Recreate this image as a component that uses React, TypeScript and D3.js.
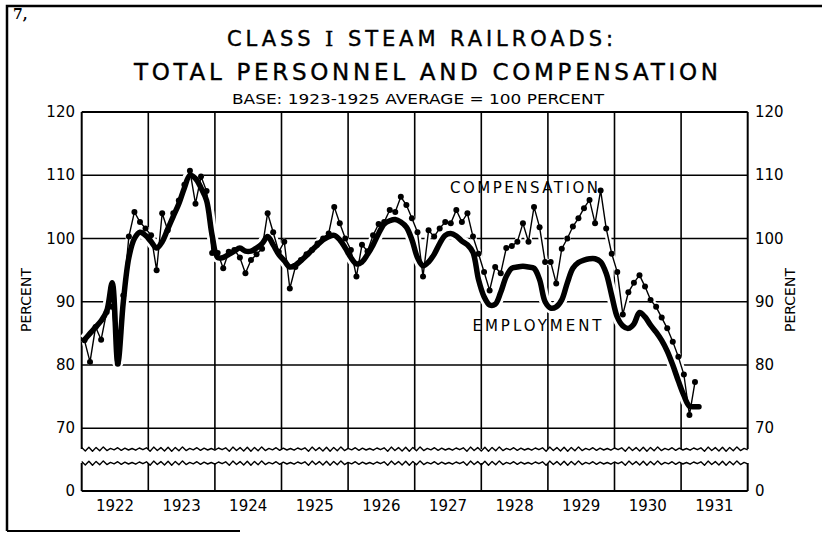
import { useEffect, useRef } from "react";
import * as d3 from "d3";

// monthly index numbers, Jan 1922 onward (1923-1925 average = 100)
const years = [1922, 1923, 1924, 1925, 1926, 1927, 1928, 1929, 1930, 1931];

const employment = [
  84, 85, 86, 87, 88.5, 93, 80.3, 90, 97, 100, 101, 100.5, // 1922
  99.5, 98.5, 99.5, 101.5, 103.5, 105.5, 108, 110, 109.5, 108, 106, 100.5, // 1923
  97, 97, 97.5, 98, 98.5, 98, 98, 98.5, 99.2, 100.3, 99, 97.5, // 1924
  96.5, 95.5, 95.8, 96.5, 97.3, 98.2, 99, 99.8, 100.3, 100.5, 99.8, 98.5, // 1925
  97, 96, 96.3, 97.5, 99, 100.8, 102.3, 102.8, 103, 102.6, 101.8, 99.8, // 1926
  97, 95.7, 96.3, 97.5, 99.2, 100.5, 100.8, 100.4, 99.6, 99, 97.8, 93.5, // 1927
  90.8, 89.5, 89.6, 91.5, 94, 95.3, 95.5, 95.6, 95.5, 95.3, 93.5, 90, // 1928
  89, 89.2, 90.3, 93, 95.3, 96.2, 96.6, 96.8, 96.8, 96.3, 94.5, 91, // 1929
  87.6, 86.2, 85.8, 86.5, 88.3, 87.6, 86.3, 85.2, 83.9, 82.2, 80, 77.5, // 1930
  75.2, 73.5, 73.4, // 1931
];

const compensation = [
  83.9, 80.5, 86, 84, 88.4, 89.2, 80.2, 91, 100.3, 104.2, 102.6, 101.6, // 1922
  100.5, 95, 104, 101.3, 104, 106, 108.5, 110.7, 105.5, 109.8, 107.5, 97.7, // 1923
  97.7, 95.3, 97.9, 98.2, 97, 94.5, 96.6, 97.5, 98.4, 104, 101, 97.9, // 1924
  99.5, 92.1, 95.5, 96.6, 97.5, 98.2, 99.2, 100, 100.8, 105, 102.4, 100, // 1925
  98.2, 94, 99, 98, 100.5, 102.3, 102.6, 104.5, 104.2, 106.6, 105.3, 103.2, // 1926
  101, 94, 101.3, 100.3, 101.6, 102.6, 102.4, 104.5, 102.6, 104, 100.3, 97.6, // 1927
  94.7, 91.8, 95.5, 94.5, 98.5, 98.8, 99.5, 102.4, 99.5, 105, 101.8, 96.3, // 1928
  96.3, 92.9, 98.4, 100, 101.9, 103.2, 104.8, 106.1, 102.4, 107.6, 101.6, 97.6, // 1929
  94.7, 88, 91.5, 93, 94.2, 92.4, 90.3, 89.2, 87.5, 85.8, 83.7, 81.3, // 1930
  78.5, 72.1, 77.3, // 1931
];

const yTicks = [70, 80, 90, 100, 110, 120];

const font = "'DejaVu Sans', sans-serif";

const Chart = () => {
  const svgRef = useRef(null);

  useEffect(() => {
    const svg = d3.select(svgRef.current);
    svg.selectAll("*").remove();

    const left = 81.7;
    const right = 747.7;
    const top = 112;
    const y70 = 428.3;
    const yZero = 491;
    const breakTop = 449;
    const breakBottom = 463;

    const x = d3
      .scaleLinear()
      .domain([0, years.length * 12])
      .range([left, right]);

    const y = d3.scaleLinear().domain([70, 120]).range([y70, top]);

    // outer frame (left, top, part of bottom)
    svg.append("path")
      .attr("d", "M7,531 L7,6 L822,6")
      .attr("fill", "none")
      .attr("stroke", "#000")
      .attr("stroke-width", 2.5);
    svg.append("line")
      .attr("x1", 7).attr("x2", 240)
      .attr("y1", 531).attr("y2", 531)
      .attr("stroke", "#000").attr("stroke-width", 2);

    // titles
    svg.append("text")
      .attr("x", 13).attr("y", 19)
      .attr("font-family", "'DejaVu Serif', serif")
      .attr("font-weight", "bold")
      .attr("font-size", 14)
      .text("7,");

    const t1 = svg.append("text")
      .attr("x", 420).attr("y", 46)
      .attr("text-anchor", "middle")
      .attr("font-family", font)
      .attr("font-size", 21)
      .attr("stroke", "#000").attr("stroke-width", 0.4)
      .attr("textLength", 386)
      .attr("lengthAdjust", "spacing");
    t1.append("tspan").text("CLASS ");
    t1.append("tspan").attr("font-family", "'DejaVu Serif', serif").text("I");
    t1.append("tspan").text("  STEAM  RAILROADS:");

    svg.append("text")
      .attr("x", 426).attr("y", 80)
      .attr("text-anchor", "middle")
      .attr("font-family", font)
      .attr("font-size", 23)
      .attr("stroke", "#000").attr("stroke-width", 0.4)
      .attr("textLength", 584)
      .attr("lengthAdjust", "spacing")
      .text("TOTAL  PERSONNEL  AND  COMPENSATION");

    svg.append("text")
      .attr("x", 418).attr("y", 104)
      .attr("text-anchor", "middle")
      .attr("font-family", font)
      .attr("font-size", 14)
      .attr("textLength", 372)
      .attr("lengthAdjust", "spacingAndGlyphs")
      .text("BASE: 1923-1925 AVERAGE = 100 PERCENT");

    const g = svg.append("g");

    // horizontal grid lines
    yTicks.forEach((v) => {
      g.append("line")
        .attr("x1", left).attr("x2", right)
        .attr("y1", y(v)).attr("y2", y(v))
        .attr("stroke", "#000")
        .attr("stroke-width", v === 120 ? 2 : 1.6);
    });
    g.append("line")
      .attr("x1", left).attr("x2", right)
      .attr("y1", yZero).attr("y2", yZero)
      .attr("stroke", "#000").attr("stroke-width", 2.2);

    // vertical year lines, broken between the wavy lines
    d3.range(years.length + 1).forEach((i) => {
      const xv = x(i * 12);
      const sw = i === 0 || i === years.length ? 2 : 1.6;
      g.append("line")
        .attr("x1", xv).attr("x2", xv)
        .attr("y1", top).attr("y2", breakTop)
        .attr("stroke", "#000").attr("stroke-width", sw);
      g.append("line")
        .attr("x1", xv).attr("x2", xv)
        .attr("y1", breakBottom).attr("y2", yZero)
        .attr("stroke", "#000").attr("stroke-width", sw);
    });

    // wavy scale-break lines (decoration only)
    const jitter = [0, 0.6, -0.4, 0.9, -0.2, 0.4, -0.7, 0.2, 0.8, -0.5, 0.1];
    const zig = (base) =>
      d3.range(0, Math.floor((right - left) / 3.6) + 1).map((i) => [
        left + i * 3.6,
        base + (i % 2 === 0 ? -1.4 : 1.4) + jitter[i % jitter.length],
      ]);
    [breakTop, breakBottom].forEach((b) => {
      g.append("path")
        .attr("d", d3.line()(zig(b)))
        .attr("fill", "none")
        .attr("stroke", "#000")
        .attr("stroke-width", 1.4)
        .attr("stroke-linejoin", "round");
    });

    // tick labels
    const tickLabels = [...yTicks.map((v) => ({ v: String(v), yy: y(v) })), { v: "0", yy: yZero }];
    tickLabels.forEach((d) => {
      g.append("text")
        .attr("x", 75).attr("y", d.yy + 5)
        .attr("text-anchor", "end")
        .attr("font-family", font).attr("font-size", 15)
        .text(d.v);
      g.append("text")
        .attr("x", 755).attr("y", d.yy + 5)
        .attr("text-anchor", "start")
        .attr("font-family", font).attr("font-size", 15)
        .text(d.v);
    });

    years.forEach((yr, i) => {
      g.append("text")
        .attr("x", x(i * 12 + 6)).attr("y", 511)
        .attr("text-anchor", "middle")
        .attr("font-family", font).attr("font-size", 15)
        .text(yr);
    });

    [[31, 300], [795, 300]].forEach(([px, py]) => {
      g.append("text")
        .attr("transform", `translate(${px},${py}) rotate(-90)`)
        .attr("text-anchor", "middle")
        .attr("font-family", font).attr("font-size", 14)
        .text("PERCENT");
    });

    // series
    const empPts = employment.map((v, i) => [x(i + 0.5), y(v)]);
    const compPts = compensation.map((v, i) => [x(i + 0.5), y(v)]);
    // employment ends with a short flat stub
    const last = empPts[empPts.length - 1];
    const empPath = d3.line().curve(d3.curveCatmullRom.alpha(0.5))([...empPts, [last[0] + 4, last[1]]]);
    const compPath = d3.line()(compPts);

    // white halos break the grid around the curves
    g.append("path").attr("d", compPath)
      .attr("fill", "none").attr("stroke", "#fff").attr("stroke-width", 6)
      .attr("stroke-linejoin", "round");
    g.append("path").attr("d", empPath)
      .attr("fill", "none").attr("stroke", "#fff").attr("stroke-width", 11)
      .attr("stroke-linejoin", "round");

    g.append("path").attr("d", compPath)
      .attr("fill", "none").attr("stroke", "#000").attr("stroke-width", 1.4);
    g.selectAll(".comp-dot")
      .data(compPts)
      .enter()
      .append("circle")
      .attr("class", "comp-dot")
      .attr("cx", (d) => d[0])
      .attr("cy", (d) => d[1])
      .attr("r", 3)
      .attr("fill", "#000");

    g.append("path").attr("d", empPath)
      .attr("fill", "none").attr("stroke", "#000").attr("stroke-width", 5.5)
      .attr("stroke-linejoin", "round").attr("stroke-linecap", "round");

    // series labels
    g.append("text")
      .attr("x", 524).attr("y", 193)
      .attr("text-anchor", "middle")
      .attr("font-family", font).attr("font-size", 15)
      .attr("textLength", 148).attr("lengthAdjust", "spacing")
      .text("COMPENSATION");
    g.append("text")
      .attr("x", 537).attr("y", 331)
      .attr("text-anchor", "middle")
      .attr("font-family", font).attr("font-size", 15)
      .attr("textLength", 129).attr("lengthAdjust", "spacing")
      .text("EMPLOYMENT");
  }, []);

  return (
    <svg
      ref={svgRef}
      width={822}
      height={534}
      style={{ position: "absolute", left: 0, top: 0, background: "#fff" }}
    ></svg>
  );
};

export default function App() {
  return <Chart />;
}
